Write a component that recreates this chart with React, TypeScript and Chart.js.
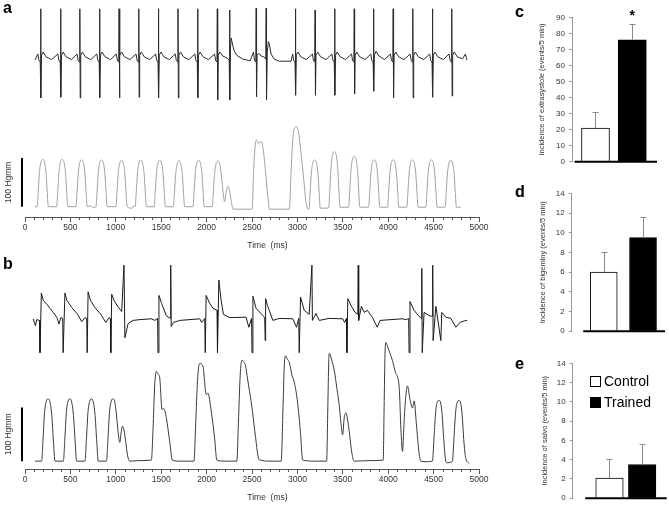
import React, { useEffect, useRef } from "react";
import { Chart, registerables } from "chart.js";

Chart.register(...registerables);

const FONT = '"Liberation Sans", Arial, Helvetica, sans-serif';

// ---------------- data ----------------
const TIME_MIN = 0;
const TIME_MAX = 5000;
const TIME_STEP = 500;
const TIME_MINOR = 100;
const TIME_TITLE = "Time  (ms)";
const scaleBarMmHg = 100;

// ECG, panel a: [time ms, mV]
const ecgA: number[][] = [
  [110, 0.0], [142, 0.15], [154, -0.02], [168, -0.05], [172, 1.28], [176, -0.95], [182, 0.12], [200, 0.2], [232, 0.08], [292, 0.01],
  [362, 0.15], [374, -0.02], [388, -0.05], [392, 1.28], [396, -0.93], [402, 0.12], [420, 0.2], [452, 0.08], [512, 0.01],
  [574, 0.15], [586, -0.02], [600, -0.05], [604, 1.28], [608, -0.95], [614, 0.12], [632, 0.2], [664, 0.08], [724, 0.01],
  [791, 0.15], [803, -0.02], [817, -0.05], [821, 1.28], [825, -0.94], [831, 0.12], [849, 0.2], [881, 0.08], [941, 0.01],
  [1006, 0.15], [1018, -0.02], [1032, -0.05], [1036, 1.28], [1040, -0.95], [1046, 0.12], [1064, 0.2], [1096, 0.08], [1156, 0.01],
  [1223, 0.15], [1235, -0.02], [1249, -0.05], [1253, 1.28], [1257, -0.93], [1263, 0.12], [1281, 0.2], [1313, 0.08], [1373, 0.01],
  [1439, 0.15], [1451, -0.02], [1465, -0.05], [1469, 1.28], [1473, -0.95], [1479, 0.12], [1497, 0.2], [1529, 0.08], [1589, 0.01],
  [1655, 0.15], [1667, -0.02], [1681, -0.05], [1685, 1.28], [1689, -0.95], [1695, 0.12], [1713, 0.2], [1745, 0.08], [1805, 0.01],
  [1871, 0.15], [1883, -0.02], [1897, -0.05], [1901, 1.28], [1905, -0.94], [1911, 0.12], [1929, 0.2], [1961, 0.08], [2021, 0.01],
  [2088, 0.15], [2100, -0.02], [2114, -0.05], [2118, 1.28], [2122, -1.0], [2128, 0.12], [2146, 0.2], [2178, 0.1], [2225, 0.05],
  [2240, 0.02], [2249, -0.02], [2253, 1.25], [2257, -1.0], [2263, 0.3], [2271, 0.55], [2280, 0.45], [2300, 0.25], [2330, 0.12], [2400, 0.02], [2480, -0.02],
  [2516, 0.2], [2528, -0.02], [2542, -0.05], [2546, 1.3], [2550, -0.92], [2556, 0.12], [2574, 0.17], [2600, 0.1], [2630, 0.08],
  [2645, 0.05], [2652, 0.02], [2656, 1.3], [2660, -1.0], [2668, 0.2], [2681, 0.46], [2690, 0.4], [2710, 0.15], [2745, 0.02], [2800, -0.03], [2930, -0.03],
  [2948, 0.15], [2960, -0.02], [2974, -0.05], [2978, 1.28], [2982, -0.88], [2988, 0.12], [3006, 0.2], [3038, 0.08], [3098, 0.01],
  [3165, 0.15], [3177, -0.02], [3191, -0.05], [3195, 1.25], [3199, -0.88], [3205, 0.12], [3223, 0.2], [3255, 0.08], [3315, 0.01],
  [3380, 0.15], [3392, -0.02], [3406, -0.05], [3410, 1.28], [3414, -0.88], [3420, 0.12], [3438, 0.2], [3470, 0.08], [3530, 0.01],
  [3596, 0.15], [3608, -0.02], [3622, -0.05], [3626, 1.28], [3630, -0.85], [3636, 0.12], [3654, 0.2], [3686, 0.08], [3746, 0.01],
  [3808, 0.15], [3820, -0.02], [3834, -0.05], [3838, 1.28], [3842, -0.78], [3848, 0.12], [3866, 0.22], [3898, 0.1], [3958, 0.01],
  [4025, 0.15], [4037, -0.02], [4051, -0.05], [4055, 1.28], [4059, -0.95], [4065, 0.12], [4083, 0.2], [4115, 0.08], [4175, 0.01],
  [4241, 0.15], [4253, -0.02], [4267, -0.05], [4271, 1.28], [4275, -0.95], [4281, 0.12], [4299, 0.2], [4331, 0.08], [4391, 0.01],
  [4457, 0.15], [4469, -0.02], [4483, -0.05], [4487, 1.28], [4491, -0.93], [4497, 0.12], [4515, 0.2], [4547, 0.08], [4607, 0.01],
  [4670, 0.15], [4682, -0.02], [4696, -0.05], [4700, 1.28], [4704, -0.9], [4710, 0.12], [4728, 0.2], [4760, 0.08], [4820, 0.03],
  [4850, 0.15], [4868, 0.0],
];

// LV pressure, panel a: [time ms, mmHg above diastolic baseline]
const pressureA: number[][] = [
  [110, 0], [133, 0], [145, 29], [157, 66], [173, 90], [195, 97], [217, 90], [233, 66], [245, 29], [257, 0],
  [348, 0], [360, 29], [372, 66], [388, 90], [410, 97], [432, 90], [448, 66], [460, 29], [472, 0],
  [561, 0], [573, 29], [585, 65], [601, 89], [623, 96], [645, 89], [661, 65], [673, 29], [685, 0], [720, 2], [745, -2],
  [781, 0], [793, 29], [805, 65], [821, 89], [843, 96], [865, 89], [881, 65], [893, 29], [905, 0],
  [1001, 0], [1013, 29], [1025, 65], [1041, 88], [1063, 95], [1085, 88], [1101, 65], [1113, 29], [1125, 0], [1180, -3], [1200, 2],
  [1213, 0], [1225, 29], [1237, 65], [1253, 88], [1275, 95], [1297, 88], [1313, 65], [1325, 29], [1337, 0],
  [1422, 0], [1434, 29], [1446, 65], [1462, 88], [1484, 95], [1506, 88], [1522, 65], [1534, 29], [1546, 0],
  [1634, 0], [1646, 28], [1658, 64], [1674, 87], [1696, 94], [1718, 87], [1734, 64], [1746, 28], [1758, 0],
  [1850, 0], [1862, 29], [1874, 65], [1890, 88], [1912, 95], [1934, 88], [1950, 65], [1962, 29], [1974, 0],
  [2062, 0], [2074, 28], [2086, 64], [2102, 87], [2124, 94], [2146, 87], [2165, 60], [2183, 28], [2198, 10], [2215, 30], [2234, 42], [2250, 35], [2270, 14], [2290, -5],
  [2400, -5], [2502, -5], [2515, 60], [2530, 115], [2549, 137], [2575, 130], [2601, 134], [2625, 115], [2650, 70], [2675, 20], [2692, -5],
  [2800, -5], [2912, -5], [2930, 70], [2950, 140], [2970, 162], [2990, 164], [3010, 155], [3040, 110], [3070, 55], [3095, 10], [3115, -5],
  [3128, -5], [3140, 28], [3152, 65], [3168, 89], [3190, 96], [3212, 89], [3228, 65], [3240, 28], [3252, -3],
  [3300, -3], [3345, -2], [3357, 34], [3369, 77], [3385, 105], [3407, 113], [3429, 105], [3445, 77], [3457, 34], [3469, -1],
  [3564, -1], [3576, 31], [3588, 70], [3604, 96], [3626, 103], [3648, 96], [3664, 70], [3676, 31], [3688, -1],
  [3784, -1], [3796, 29], [3808, 65], [3824, 89], [3846, 96], [3868, 89], [3884, 65], [3896, 29], [3908, -1],
  [3993, -1], [4005, 29], [4017, 65], [4033, 89], [4055, 96], [4077, 89], [4093, 65], [4105, 29], [4117, -1],
  [4205, -1], [4217, 29], [4229, 65], [4245, 89], [4267, 96], [4289, 89], [4305, 65], [4317, 29], [4329, -1],
  [4414, -1], [4426, 29], [4438, 65], [4454, 89], [4476, 96], [4498, 89], [4514, 65], [4526, 29], [4538, -1],
  [4627, -1], [4639, 29], [4651, 65], [4667, 88], [4689, 95], [4711, 88], [4727, 65], [4739, 29], [4751, -1],
  [4800, -1],
];

// ECG, panel b: [time ms, mV]
const ecgB: number[][] = [
  [90, 0], [115, -0.17], [130, -0.02], [160, -0.04], [165, -0.84], [180, 0.64], [200, 0.46], [240, 0.36], [275, 0.26], [310, 0.16], [350, 0.04], [375, -0.13], [395, 0.03],
  [415, 0.01], [420, -0.84], [440, 0.64], [460, 0.46], [515, 0.28], [580, 0.11], [625, -0.07], [660, 0.03],
  [680, 0.01], [685, -0.84], [695, 0.67], [720, 0.46], [770, 0.28], [835, 0.11], [890, -0.09], [925, 0.03],
  [940, 0.01], [945, -0.84], [955, 0.61], [980, 0.46], [1020, 0.31], [1065, 0.18], [1090, 1.33], [1100, -0.47], [1135, -0.12], [1190, -0.04], [1265, -0.02], [1390, 0],
  [1430, -0.04], [1460, 0.01], [1465, -0.84], [1475, 0.58], [1505, 0.38], [1555, 0.08], [1600, 0.01], [1605, 1.33], [1610, -0.19], [1635, -0.09], [1705, -0.04], [1925, 0],
  [1945, -0.09], [1980, 0.01], [1985, -0.84], [1995, 0.58], [2035, 0.38], [2070, 0.26], [2115, 0.21], [2120, -0.84], [2135, 0.96], [2160, 0.46], [2185, 0.11], [2255, 0.03], [2435, 0.04],
  [2465, -0.21], [2495, 0.01], [2500, -0.84], [2510, 0.56], [2545, 0.26], [2620, 0.08], [2640, 0.03], [2645, -0.54], [2650, 0.5], [2670, 0.33], [2690, 0.21], [2730, -0.04], [2800, 0.01], [2950, 0],
  [2990, -0.21], [3015, 0.01], [3020, -0.84], [3035, 0.54], [3075, 0.21], [3130, 0.11], [3160, 1.33], [3165, -0.04], [3205, 0.13], [3240, -0.04], [3350, 0.01], [3500, 0],
  [3520, -0.09], [3540, 0.01], [3545, -0.84], [3555, 0.5], [3595, 0.31], [3635, 0.16], [3665, 0.11], [3670, 1.33], [3675, -0.04], [3705, 0.31], [3735, 0.16], [3770, 0.21], [3825, 0.04], [3880, -0.21], [3910, -0.04], [4155, 0],
  [4200, -0.02], [4225, 0.01], [4230, -0.84], [4240, 0.43], [4285, 0.21], [4340, 0.06], [4365, 0.01], [4370, 1.25], [4375, -0.84], [4395, 0.16], [4450, 0.08],
  [4485, 0.06], [4490, 1.33], [4495, -0.54], [4525, 0.31], [4580, -0.54], [4590, 0.16], [4635, 0.04], [4690, 0.01], [4745, -0.21], [4790, -0.09], [4855, -0.04], [4870, -0.04],
];

// LV pressure, panel b: [time ms, mmHg above diastolic baseline]
const pressureB: number[][] = [
  [110, 0], [183, 0], [200, 45], [215, 90], [235, 112], [256, 116], [275, 110], [295, 85], [312, 40], [330, 0],
  [422, 0], [440, 45], [455, 90], [475, 112], [495, 116], [514, 110], [534, 85], [551, 40], [569, 0],
  [660, 0], [678, 45], [693, 90], [713, 112], [733, 116], [752, 110], [772, 85], [789, 40], [807, 0],
  [897, 0], [915, 45], [930, 90], [950, 112], [970, 116], [989, 110], [1005, 90], [1025, 55], [1044, 35], [1060, 55], [1074, 65], [1090, 58], [1110, 35], [1130, 10], [1154, 0],
  [1250, 1], [1392, 2], [1410, 60], [1428, 140], [1447, 167], [1465, 162], [1484, 155], [1509, 96], [1527, 98], [1557, 80], [1593, 37], [1623, 2],
  [1700, 0], [1861, 0], [1880, 70], [1900, 150], [1923, 182], [1959, 177], [1996, 124], [2014, 127], [2051, 93], [2088, 43], [2113, 2],
  [2200, 0], [2333, 0], [2350, 70], [2370, 160], [2390, 188], [2410, 185], [2429, 177], [2451, 153], [2473, 130], [2505, 93], [2538, 46], [2577, 3],
  [2700, 0], [2822, 0], [2840, 90], [2855, 175], [2868, 196], [2890, 190], [2912, 183], [2940, 160], [2967, 146], [3000, 112], [3033, 55], [3058, 2],
  [3200, 0], [3322, 0], [3335, 100], [3345, 185], [3352, 201], [3375, 190], [3407, 168], [3435, 135], [3462, 102], [3480, 70], [3498, 49], [3515, 80], [3535, 90], [3550, 80], [3571, 55], [3600, 15], [3626, 0],
  [3800, 1], [3945, 2], [3955, 100], [3965, 200], [3975, 221], [3990, 215], [4011, 205], [4047, 187], [4080, 165], [4121, 137], [4140, 60], [4157, 18], [4180, 90], [4212, 140], [4240, 115], [4267, 99], [4286, 112], [4310, 70], [4340, 15], [4359, 0],
  [4430, -1], [4487, 0], [4505, 45], [4522, 90], [4540, 110], [4560, 113], [4578, 108], [4595, 85], [4612, 40], [4634, 0],
  [4650, -3], [4690, -2], [4707, 0], [4725, 45], [4742, 90], [4760, 110], [4780, 113], [4798, 108], [4815, 85], [4832, 40], [4855, 5], [4890, -4],
];

// Bar panels (mean, SD), groups
const groups = ["Control", "Trained"];
const extrasystoleMean = [21, 76];
const extrasystoleSD = [10, 10];
const bigeminyMean = [6.0, 9.5];
const bigeminySD = [2.0, 2.1];
const salvoMean = [2.1, 3.5];
const salvoSD = [2.0, 2.1];

// ---------------- plugins ----------------
function makeTraceDecor() {
  return {
    id: "traceDecor",
    afterDraw(chart: any) {
      const ctx = chart.ctx;
      const x = chart.scales.x;
      const yP = chart.scales.yP;
      ctx.save();
      ctx.strokeStyle = "#555";
      ctx.lineWidth = 1;
      for (let v = TIME_MIN + TIME_MINOR; v < TIME_MAX; v += TIME_MINOR) {
        if (v % TIME_STEP === 0) continue;
        const px = Math.round(x.getPixelForValue(v)) + 0.5;
        ctx.beginPath();
        ctx.moveTo(px, x.top);
        ctx.lineTo(px, x.top + 3);
        ctx.stroke();
      }
      const bx = x.getPixelForValue(TIME_MIN) - 3;
      const y0 = yP.getPixelForValue(0);
      const y1 = yP.getPixelForValue(scaleBarMmHg);
      ctx.strokeStyle = "#000";
      ctx.lineWidth = 2;
      ctx.beginPath();
      ctx.moveTo(bx, y0);
      ctx.lineTo(bx, y1);
      ctx.stroke();
      ctx.fillStyle = "#333";
      ctx.font = `8.5px ${FONT}`;
      ctx.textAlign = "center";
      ctx.textBaseline = "middle";
      ctx.save();
      ctx.translate(bx - 13, (y0 + y1) / 2);
      ctx.rotate(-Math.PI / 2);
      ctx.fillText(`${scaleBarMmHg} Hgmm`, 0, 0);
      ctx.restore();
      ctx.fillText(TIME_TITLE, x.getPixelForValue(2670), x.top + 28.5);
      ctx.restore();
    },
  };
}

function makeBarDecor(mean: number[], sd: number[], gap: number, star: number | null) {
  return {
    id: "barDecor",
    afterDatasetsDraw(chart: any) {
      const ctx = chart.ctx;
      const x = chart.scales.x;
      const y = chart.scales.y;
      const area = chart.chartArea;
      ctx.save();
      ctx.strokeStyle = "#8a8a8a";
      ctx.lineWidth = 1;
      mean.forEach((m, i) => {
        const px = Math.round(x.getPixelForValue(i)) + 0.5;
        const yb = y.getPixelForValue(m);
        const yt = Math.round(y.getPixelForValue(m + sd[i])) + 0.5;
        ctx.beginPath();
        ctx.moveTo(px, yb);
        ctx.lineTo(px, yt);
        ctx.moveTo(px - 3, yt);
        ctx.lineTo(px + 3, yt);
        ctx.stroke();
      });
      const y0 = y.getPixelForValue(0);
      ctx.strokeStyle = "#000";
      ctx.lineWidth = 2;
      ctx.beginPath();
      ctx.moveTo(area.left + gap, y0);
      ctx.lineTo(area.right, y0);
      ctx.stroke();
      if (star !== null) {
        const px = x.getPixelForValue(star);
        const yt = y.getPixelForValue(mean[star] + sd[star]);
        ctx.fillStyle = "#000";
        ctx.font = `bold 14px ${FONT}`;
        ctx.textAlign = "center";
        ctx.textBaseline = "alphabetic";
        ctx.fillText("*", px, yt - 4);
      }
      ctx.restore();
    },
  };
}

// ---------------- configs ----------------
function traceConfig(
  ecg: number[][],
  pressure: number[][],
  ecgColor: string,
  pColor: string,
  ecgRange: number[],
  pRange: number[]
): any {
  return {
    type: "line",
    data: {
      datasets: [
        {
          label: "ECG",
          data: ecg.map(([t, v]) => ({ x: t, y: v })),
          yAxisID: "yE",
          borderColor: ecgColor,
          borderWidth: 1,
          pointRadius: 0,
          tension: 0,
          fill: false,
        },
        {
          label: "Pressure",
          data: pressure.map(([t, v]) => ({ x: t, y: v })),
          yAxisID: "yP",
          borderColor: pColor,
          borderWidth: 1,
          pointRadius: 0,
          cubicInterpolationMode: "monotone",
          fill: false,
        },
      ],
    },
    options: {
      responsive: false,
      animation: false,
      devicePixelRatio: 1,
      layout: { padding: { left: 25, right: 21, top: 0, bottom: 0 } },
      plugins: { legend: { display: false }, tooltip: { enabled: false } },
      scales: {
        x: {
          type: "linear",
          min: TIME_MIN,
          max: TIME_MAX,
          ticks: {
            stepSize: TIME_STEP,
            autoSkip: false,
            maxRotation: 0,
            padding: 1,
            color: "#333",
            font: { size: 8.5, family: FONT },
            callback: (v: any) => String(v),
          },
          grid: { drawOnChartArea: false, tickLength: 5, tickColor: "#555", tickWidth: 1 },
          border: { display: true, color: "#555", width: 1 },
          afterFit: (s: any) => {
            s.height = 38;
          },
        },
        yE: { display: false, min: ecgRange[0], max: ecgRange[1] },
        yP: { display: false, min: pRange[0], max: pRange[1] },
      },
    },
    plugins: [makeTraceDecor()],
  };
}

function barConfig(p: any): any {
  return {
    type: "bar",
    data: {
      datasets: [
        {
          label: p.title,
          data: p.mean.map((v: number, i: number) => ({ x: i, y: v })),
          backgroundColor: ["#ffffff", "#000000"],
          borderColor: "#000",
          borderWidth: 1,
          barThickness: p.barThickness,
        },
      ],
    },
    options: {
      responsive: false,
      animation: false,
      devicePixelRatio: 1,
      layout: { padding: p.padding },
      plugins: { legend: { display: false }, tooltip: { enabled: false } },
      scales: {
        x: {
          type: "linear",
          min: p.xMin,
          max: p.xMax,
          offset: false,
          grid: { offset: false },
          display: false,
        },
        y: {
          min: 0,
          max: p.yMax,
          ticks: { stepSize: p.yStep, color: "#333", font: { size: 8, family: FONT }, padding: 4 },
          grid: { drawOnChartArea: false, tickLength: 3, tickColor: "#999" },
          border: { color: "#999" },
          title: {
            display: true,
            text: p.title,
            color: "#333",
            font: { size: 7.5, family: FONT },
            padding: { top: p.titlePad, bottom: 0 },
          },
          afterFit: (s: any) => {
            s.width = p.yWidth;
          },
        },
      },
    },
    plugins: [makeBarDecor(p.mean, p.sd, p.gap, p.star)],
  };
}

// ---------------- components ----------------
function ChartBox(props: { left: number; top: number; width: number; height: number; make: () => any }) {
  const ref = useRef<HTMLCanvasElement>(null);
  useEffect(() => {
    const chart = new Chart(ref.current as HTMLCanvasElement, props.make());
    return () => chart.destroy();
  }, []);
  return (
    <div style={{ position: "absolute", left: props.left, top: props.top, width: props.width, height: props.height }}>
      <canvas ref={ref} width={props.width} height={props.height} style={{ width: props.width, height: props.height, display: "block" }} />
    </div>
  );
}

const letterStyle = (left: number, top: number): React.CSSProperties => ({
  position: "absolute",
  left,
  top,
  font: `bold 16px ${FONT}`,
  lineHeight: "16px",
  color: "#000",
});

export default function App() {
  return (
    <div style={{ position: "absolute", left: 0, top: 0, width: 669, height: 507, background: "#fff", overflow: "hidden", fontFamily: FONT }}>
      <ChartBox
        left={0}
        top={0}
        width={500}
        height={255}
        make={() => traceConfig(ecgA, pressureA, "#2b2b2b", "#a0a0a0", [-3.925, 1.5], [-21.1, 424.4])}
      />
      <ChartBox
        left={0}
        top={255}
        width={500}
        height={252}
        make={() => traceConfig(ecgB, pressureB, "#1a1a1a", "#3a3a3a", [-3.725, 1.5825], [-14.6, 383.7])}
      />
      <ChartBox
        left={525}
        top={0}
        width={144}
        height={175}
        make={() =>
          barConfig({
            title: "Incidence of extrasystole (events/5 min)",
            mean: extrasystoleMean,
            sd: extrasystoleSD,
            yMax: 90,
            yStep: 10,
            xMin: -0.638,
            xMax: 1.67,
            barThickness: 28,
            padding: { top: 17.3, right: 12, bottom: 13.3, left: 0 },
            yWidth: 47,
            titlePad: 12.2,
            gap: 2.5,
            star: 1,
          })
        }
      />
      <ChartBox
        left={525}
        top={175}
        width={144}
        height={165}
        make={() =>
          barConfig({
            title: "Incidence of bigeminy (events/5 min)",
            mean: bigeminyMean,
            sd: bigeminySD,
            yMax: 14,
            yStep: 2,
            xMin: -0.816,
            xMax: 1.56,
            barThickness: 27,
            padding: { top: 18.3, right: 4, bottom: 5.7, left: 0 },
            yWidth: 46.7,
            titlePad: 13.8,
            gap: 11.5,
            star: null,
          })
        }
      />
      <ChartBox
        left={525}
        top={340}
        width={144}
        height={167}
        make={() =>
          barConfig({
            title: "Incidence of salvo (events/5 min)",
            mean: salvoMean,
            sd: salvoSD,
            yMax: 14,
            yStep: 2,
            xMin: -1.125,
            xMax: 1.75,
            barThickness: 27.5,
            padding: { top: 23.3, right: 2.3, bottom: 5.3, left: 0 },
            yWidth: 47.7,
            titlePad: 15.5,
            gap: 12.5,
            star: null,
          })
        }
      />
      <div style={letterStyle(3, 0)}>a</div>
      <div style={letterStyle(3, 256)}>b</div>
      <div style={letterStyle(515, 4)}>c</div>
      <div style={letterStyle(515, 184)}>d</div>
      <div style={letterStyle(515, 356)}>e</div>
      <div style={{ position: "absolute", left: 590, top: 376, width: 9, height: 9, border: "1px solid #000", background: "#fff" }} />
      <div style={{ position: "absolute", left: 604, top: 373, font: `14px ${FONT}`, lineHeight: "16px", color: "#000" }}>{groups[0]}</div>
      <div style={{ position: "absolute", left: 590, top: 397, width: 9, height: 9, border: "1px solid #000", background: "#000" }} />
      <div style={{ position: "absolute", left: 604, top: 394, font: `14px ${FONT}`, lineHeight: "16px", color: "#000" }}>{groups[1]}</div>
    </div>
  );
}
